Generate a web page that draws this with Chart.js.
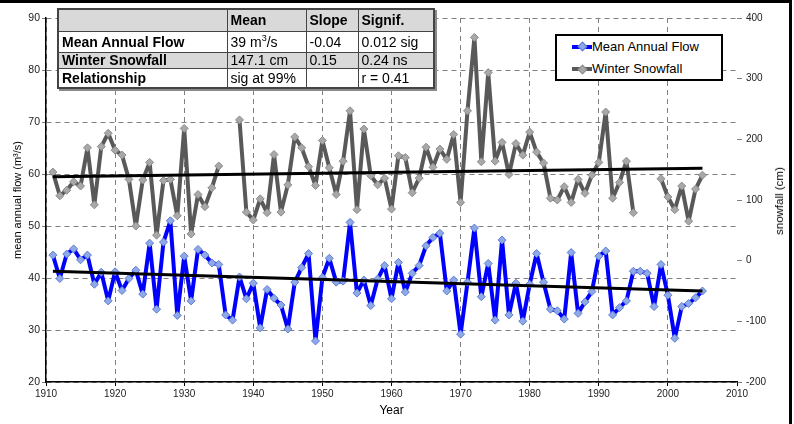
<!DOCTYPE html>
<html>
<head>
<meta charset="utf-8">
<script src="https://cdn.jsdelivr.net/npm/chart.js@4.4.0/dist/chart.umd.min.js"></script>
<style>
html,body{margin:0;padding:0;background:#fff;}
#wrap{position:relative;width:794px;height:424px;overflow:hidden;font-family:"Liberation Sans",Arial,sans-serif;background:#fff;}
#c{position:absolute;left:0;top:0;}
#tbl{position:absolute;left:57px;top:8px;width:376px;border-collapse:collapse;table-layout:fixed;font-size:14px;color:#000;box-shadow:2px 2px 0 #8a8a8a;border:2px solid #444;background:#fff;}
#tbl td{border:1px solid #444;padding:0 0 0 3px;line-height:14px;white-space:nowrap;overflow:hidden;}
#tbl .g{background:#d9d9d9;}
#tbl .b{font-weight:bold;}
#tbl sup{font-size:9px;line-height:0;vertical-align:6px;}
#legend{position:absolute;left:555px;top:34px;width:168px;height:47px;box-sizing:border-box;border:2.5px solid #000;background:#fff;}
.ln{position:absolute;height:4px;width:20px;left:15px;}
.dm{position:absolute;width:5px;height:5px;left:22px;transform:rotate(45deg);border:1px solid;}
.lt{position:absolute;left:35px;font-size:13px;line-height:16px;color:#000;white-space:nowrap;}
#rtitle{position:absolute;left:779px;top:201px;transform:translate(-50%,-50%) rotate(-90deg);font-size:11.5px;white-space:nowrap;color:#000;}
.frame{position:absolute;background:#000;}
</style>
</head>
<body>
<div id="wrap">
<canvas id="c" width="794" height="424"></canvas>
<table id="tbl">
<colgroup><col style="width:169px"><col style="width:79px"><col style="width:52px"><col style="width:76px"></colgroup>
<tr class="g" style="height:22px"><td></td><td class="b">Mean</td><td class="b">Slope</td><td class="b">Signif.</td></tr>
<tr style="height:21px"><td class="b">Mean Annual Flow</td><td>39 m<sup>3</sup>/s</td><td>-0.04</td><td>0.012 sig</td></tr>
<tr class="g" style="height:16px"><td class="b">Winter Snowfall</td><td>147.1 cm</td><td>0.15</td><td>0.24 ns</td></tr>
<tr style="height:20px"><td class="b">Relationship</td><td>sig at 99%</td><td></td><td>r = 0.41</td></tr>
</table>
<div id="legend">
  <div class="ln" style="top:8.5px;background:#0000ff"></div>
  <div class="dm" style="top:7px;background:#8fa8e6;border-color:#5c7cd6"></div>
  <div class="lt" style="top:2.5px">Mean Annual Flow</div>
  <div class="ln" style="top:31px;background:#595959"></div>
  <div class="dm" style="top:29.5px;background:#a8a8a8;border-color:#8c8c8c"></div>
  <div class="lt" style="top:25px">Winter Snowfall</div>
</div>
<div id="rtitle">snowfall (cm)</div>
<div class="frame" style="left:0;top:0;width:792px;height:3px"></div>
<div class="frame" style="left:789px;top:0;width:3px;height:424px"></div>
</div>
<script>
// ---- Data ----
const years = [1911,1912,1913,1914,1915,1916,1917,1918,1919,1920,
  1921,1922,1923,1924,1925,1926,1927,1928,1929,1930,
  1931,1932,1933,1934,1935,1936,1937,1938,1939,1940,
  1941,1942,1943,1944,1945,1946,1947,1948,1949,1950,
  1951,1952,1953,1954,1955,1956,1957,1958,1959,1960,
  1961,1962,1963,1964,1965,1966,1967,1968,1969,1970,
  1971,1972,1973,1974,1975,1976,1977,1978,1979,1980,
  1981,1982,1983,1984,1985,1986,1987,1988,1989,1990,
  1991,1992,1993,1994,1995,1996,1997,1998,1999,2000,
  2001,2002,2003,2004,2005];

// Mean annual flow (m3/s), left axis
const meanAnnualFlow = [44.4,39.9,44.6,45.6,43.5,44.4,38.8,41.1,35.6,41.2,
  37.6,39.9,41.5,36.9,46.7,34.0,46.9,51.0,32.8,44.2,
  35.6,45.5,44.4,42.9,42.6,32.9,31.9,40.2,36.0,39.0,
  30.4,37.8,36.1,34.8,30.2,39.2,42.0,44.7,27.9,40.1,
  43.8,39.2,39.4,50.7,37.1,39.6,34.7,39.8,42.4,36.0,
  43.0,37.3,40.9,42.4,46.2,47.8,48.6,37.5,39.6,29.2,
  39.2,49.6,36.4,42.8,31.9,47.3,32.9,39.0,31.7,38.8,
  44.7,39.2,34.0,33.7,32.1,44.9,33.2,35.4,37.4,44.2,
  45.2,32.9,34.3,35.6,41.3,41.3,40.9,34.5,42.6,36.7,
  28.4,34.5,35.1,36.2,37.5];

// Winter snowfall (cm), right axis (null = missing year)
const winterSnowfall = [146,107,116,130,123,186,92,188,210,182,
  174,134,57,133,162,42,132,134,74,218,
  44,109,89,120,156,null,null,232,80,67,
  102,79,175,80,125,204,186,155,124,198,
  153,109,164,247,84,217,140,125,136,85,
  173,170,112,136,187,154,184,167,208,96,
  247,368,163,310,164,195,142,193,174,212,
  179,161,103,100,122,96,134,111,141,162,
  245,103,129,164,79,null,null,null,135,105,
  84,123,65,118,141];

// Linear trend lines (end points)
const trendYears = [1911, 2005];
const flowTrend = [41.3, 37.5];
const snowTrend = [138.5, 152.5];

// Tick labels
const xTicks = [1910,1920,1930,1940,1950,1960,1970,1980,1990,2000,2010];
const flowTicks = [20,30,40,50,60,70,80,90];
const snowTicks = [-200,-100,0,100,200,300,400];

// ---- Chart ----
const FONT = '"Liberation Sans", Arial, sans-serif';
Chart.defaults.font.family = FONT;

const pts = (xs, ys) => xs.map((x, i) => ({x: x, y: ys[i]}));

new Chart(document.getElementById('c'), {
  type: 'line',
  data: {
    datasets: [
      {label: 'Flow trend', data: pts(trendYears, flowTrend), yAxisID: 'y',
       borderColor: '#000', borderWidth: 3, pointRadius: 0, order: 0},
      {label: 'Snowfall trend', data: pts(trendYears, snowTrend), yAxisID: 'y2',
       borderColor: '#000', borderWidth: 3, pointRadius: 0, order: 1},
      {label: 'Mean Annual Flow', data: pts(years, meanAnnualFlow), yAxisID: 'y',
       borderColor: '#0000ff', borderWidth: 4, tension: 0,
       borderJoinStyle: 'round', borderCapStyle: 'round',
       pointStyle: 'rectRot', pointRadius: 4, pointBorderWidth: 1,
       pointBackgroundColor: '#8fa8e6', pointBorderColor: '#5c7cd6', order: 2},
      {label: 'Winter Snowfall', data: pts(years, winterSnowfall), yAxisID: 'y2',
       borderColor: '#595959', borderWidth: 4, tension: 0, spanGaps: false,
       borderJoinStyle: 'round', borderCapStyle: 'round',
       pointStyle: 'rectRot', pointRadius: 4, pointBorderWidth: 1,
       pointBackgroundColor: '#a8a8a8', pointBorderColor: '#8c8c8c', order: 3}
    ]
  },
  options: {
    responsive: false,
    animation: false,
    devicePixelRatio: 1,
    layout: {padding: {top: 18, left: 0, right: 0, bottom: 0}},
    plugins: {legend: {display: false}, tooltip: {enabled: false}},
    scales: {
      x: {
        type: 'linear', min: 1910, max: 2010,
        afterBuildTicks: s => { s.ticks = xTicks.map(v => ({value: v})); },
        afterFit: s => { s.height = 42; },
        ticks: {callback: v => String(v), font: {size: 10}, color: '#222', padding: 2, maxRotation: 0, autoSkip: false},
        grid: {color: c => (c.tick && c.tick.value === 2010) ? 'rgba(0,0,0,0)' : '#808080',
               lineWidth: 1, borderDash: [5, 4], tickLength: 4, tickColor: '#000', tickBorderDash: []},
        border: {display: true, color: '#000', width: 1.5, dash: [5, 4]},
        title: {display: true, text: 'Year', font: {size: 12}, color: '#000', padding: {top: 0, bottom: 6}}
      },
      y: {
        position: 'left', min: 20, max: 90,
        afterBuildTicks: s => { s.ticks = flowTicks.map(v => ({value: v})); },
        afterFit: s => { s.width = 46; },
        ticks: {font: {size: 10.5}, color: '#222', padding: 2},
        grid: {color: '#808080', lineWidth: 1, borderDash: [5, 4], tickLength: 4, tickColor: '#808080', tickBorderDash: []},
        border: {display: true, color: '#000', width: 1.5, dash: [5, 4]},
        title: {display: true, text: 'mean annual flow (m³/s)', font: {size: 11}, color: '#000', padding: {top: 11.4, bottom: 0}}
      },
      y2: {
        position: 'right', min: -200, max: 400,
        afterBuildTicks: s => { s.ticks = snowTicks.map(v => ({value: v})); },
        afterFit: s => { s.width = 57; },
        ticks: {font: {size: 10}, color: '#222', padding: 4},
        grid: {drawOnChartArea: false, tickLength: 5, tickColor: '#808080', tickBorderDash: []},
        border: {display: false}
      }
    }
  }
});
</script>
</body>
</html>
